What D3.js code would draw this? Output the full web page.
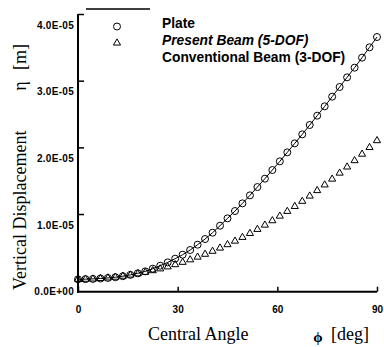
<!DOCTYPE html>
<html>
<head>
<meta charset="utf-8">
<script src="https://cdn.jsdelivr.net/npm/d3@7"></script>
<style>
  body { margin: 0; background: #fff; }
  svg { display: block; }
</style>
</head>
<body>
<div id="chart"></div>
<script>
// angle samples (deg) and vertical displacement (m)
const angles = [0, 2.25, 4.5, 6.75, 9, 11.25, 13.5, 15.75, 18, 20.25,
  22.5, 24.75, 27, 29.25, 31.5, 33.75, 36, 38.25, 40.5, 42.75,
  45, 47.25, 49.5, 51.75, 54, 56.25, 58.5, 60.75, 63, 65.25,
  67.5, 69.75, 72, 74.25, 76.5, 78.75, 81, 83.25, 85.5, 87.75, 90];

const plate = [0.186, 0.188, 0.192, 0.198, 0.206, 0.217, 0.232, 0.252, 0.276, 0.305,
  0.345, 0.39, 0.44, 0.495, 0.555, 0.625, 0.705, 0.79, 0.885, 0.99,
  1.10, 1.21, 1.325, 1.445, 1.57, 1.695, 1.825, 1.955, 2.09, 2.225,
  2.36, 2.50, 2.64, 2.78, 2.925, 3.07, 3.215, 3.36, 3.51, 3.665, 3.82].map(v => v * 1e-5);

const presentBeam = [0.186, 0.188, 0.192, 0.198, 0.206, 0.217, 0.232, 0.252, 0.276, 0.305,
  0.345, 0.39, 0.44, 0.495, 0.555, 0.625, 0.705, 0.79, 0.885, 0.99,
  1.10, 1.21, 1.325, 1.445, 1.57, 1.695, 1.825, 1.955, 2.09, 2.225,
  2.36, 2.50, 2.64, 2.78, 2.925, 3.07, 3.215, 3.36, 3.51, 3.665, 3.82].map(v => v * 1e-5);

const conventionalBeam = [0.186, 0.187, 0.191, 0.198, 0.207, 0.218, 0.233, 0.25, 0.269, 0.291,
  0.316, 0.343, 0.373, 0.406, 0.441, 0.479, 0.519, 0.562, 0.607, 0.655,
  0.706, 0.759, 0.815, 0.874, 0.935, 0.999, 1.065, 1.134, 1.205, 1.279,
  1.356, 1.435, 1.517, 1.602, 1.689, 1.779, 1.871, 1.966, 2.063, 2.163, 2.266].map(v => v * 1e-5);

const xTicks = [0, 30, 60, 90];
const yTicks = [0, 1e-5, 2e-5, 3e-5, 4e-5];
const yTickLabels = ["0.0E+00", "1.0E-05", "2.0E-05", "3.0E-05", "4.0E-05"];
const legendLabels = ["Plate", "Present Beam (5-DOF)", "Conventional Beam (3-DOF)"];

const width = 384, height = 347;

const svg = d3.select("#chart").append("svg")
    .attr("width", width)
    .attr("height", height);

// scales
const x = d3.scaleLinear().domain([0, 90]).range([78, 377]);
const y = d3.scaleLinear().domain([0, 4e-5]).range([291.7, 25]);

// y axis (ticks sit a bit above their labels in the original)
const yAxis = svg.append("g")
    .attr("transform", "translate(78,0)")
    .call(d3.axisLeft(y).tickValues(yTicks).tickSize(-6).tickPadding(4)
        .tickFormat((d, i) => yTickLabels[i]));
yAxis.select(".domain").remove();
yAxis.selectAll(".tick line")
    .attr("transform", "translate(0,-11)")
    .attr("stroke-width", 1.5);
yAxis.selectAll(".tick text")
    .style("font-family", "'Liberation Sans', Arial, sans-serif")
    .style("font-size", "10px")
    .style("font-weight", "bold")
    .style("letter-spacing", "0.3px")
    .attr("fill", "#000");

// x axis
const xAxis = svg.append("g")
    .attr("transform", `translate(0,${y(0)})`)
    .call(d3.axisBottom(x).tickValues(xTicks).tickSize(-5).tickPadding(14));
xAxis.select(".domain").remove();
xAxis.selectAll(".tick line").attr("stroke-width", 1.5);
xAxis.selectAll(".tick text")
    .style("font-family", "'Liberation Sans', Arial, sans-serif")
    .style("font-size", "10px")
    .style("font-weight", "bold")
    .attr("fill", "#000");

// axis lines
svg.append("line")
    .attr("x1", x(0)).attr("x2", x(0))
    .attr("y1", y(4e-5) - 11).attr("y2", y(0) + 1)
    .attr("stroke", "#000").attr("stroke-width", 2);
svg.append("line")
    .attr("x1", x(0) - 1).attr("x2", x(90))
    .attr("y1", y(0)).attr("y2", y(0))
    .attr("stroke", "#000").attr("stroke-width", 2);

// present beam solid line
const line = d3.line()
    .x((d, i) => x(angles[i]))
    .y(d => y(d));

svg.append("path")
    .datum(presentBeam)
    .attr("fill", "none")
    .attr("stroke", "#000")
    .attr("stroke-width", 1)
    .attr("d", line);

// plate circles
svg.append("g")
    .selectAll("circle")
    .data(plate)
    .enter().append("circle")
    .attr("cx", (d, i) => x(angles[i]))
    .attr("cy", d => y(d))
    .attr("r", 3.5)
    .attr("fill", "none")
    .attr("stroke", "#000")
    .attr("stroke-width", 1);

// conventional beam triangles
const tri = d3.symbol().type(d3.symbolTriangle).size(22);
svg.append("g")
    .selectAll("path")
    .data(conventionalBeam)
    .enter().append("path")
    .attr("d", tri)
    .attr("transform", (d, i) => `translate(${x(angles[i])},${y(d)})`)
    .attr("fill", "none")
    .attr("stroke", "#000")
    .attr("stroke-width", 1);

// legend
svg.append("line")
    .attr("x1", 86).attr("x2", 150)
    .attr("y1", 9).attr("y2", 9)
    .attr("stroke", "#000").attr("stroke-width", 1.5);

svg.append("circle")
    .attr("cx", 117).attr("cy", 26.5).attr("r", 3.5)
    .attr("fill", "none").attr("stroke", "#000");
svg.append("path")
    .attr("d", tri)
    .attr("transform", "translate(117,43)")
    .attr("fill", "none").attr("stroke", "#000");

svg.selectAll(".legend")
    .data(legendLabels)
    .enter().append("text")
    .attr("class", "legend")
    .attr("x", 162)
    .attr("y", (d, i) => 28 + i * 17)
    .style("font-family", "'Liberation Sans', Arial, sans-serif")
    .style("font-size", "13.8px")
    .style("font-weight", "bold")
    .style("font-style", (d, i) => i === 1 ? "italic" : "normal")
    .text(d => d);

// axis titles
const serif = "'Liberation Serif', 'Times New Roman', serif";

svg.append("text")
    .attr("x", 148)
    .attr("y", 340)
    .style("font-family", serif)
    .style("font-size", "18px")
    .text("Central Angle");
svg.append("text")
    .attr("x", 318)
    .attr("y", 342)
    .attr("text-anchor", "middle")
    .style("font-family", serif)
    .style("font-size", "15px")
    .style("font-weight", "bold")
    .text("ϕ");
svg.append("text")
    .attr("x", 331)
    .attr("y", 340)
    .style("font-family", serif)
    .style("font-size", "18px")
    .text("[deg]");

svg.append("text")
    .attr("transform", "translate(26,290) rotate(-90)")
    .style("font-family", serif)
    .style("font-size", "18px")
    .text("Vertical Displacement");
svg.append("text")
    .attr("transform", "translate(26,86) rotate(-90)")
    .attr("text-anchor", "middle")
    .style("font-family", serif)
    .style("font-size", "18px")
    .text("η");
svg.append("text")
    .attr("transform", "translate(26,70) rotate(-90)")
    .style("font-family", serif)
    .style("font-size", "18px")
    .text("[m]");
</script>
</body>
</html>
